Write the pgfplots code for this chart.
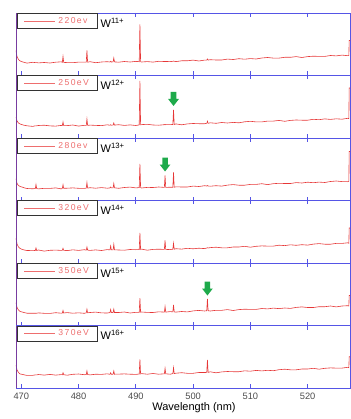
\documentclass[border=0pt]{standalone}
\usepackage{pgfplots}
\pgfplotsset{compat=1.18}
\usepackage{pgfplotstable}
\usepackage{fontspec}
\setmainfont{Liberation Sans}
\newfontfamily\legfont[LetterSpace=16]{Liberation Sans}

\definecolor{frameblue}{RGB}{85,85,230}
\definecolor{leftpurple}{RGB}{120,60,160}
\definecolor{specred}{RGB}{230,55,55}
\definecolor{legred}{RGB}{238,110,110}
\definecolor{arrowgreen}{RGB}{30,170,75}

% emission spectra, one column per electron-beam energy (intensity offset per panel)
\pgfplotstableread{
x a b c d e f
469.07 25 21 22 25 23 23
469.25 19 17 17 19 18 18
469.5 16 15 15 16 15.5 15.5
469.8 14.5 14 14 14.5 14 14
470.2 13.6 13.2 13.3 13.5 13.4 13.6
470.6 13.0 12.6 12.5 12.9 12.8 13.0
471 12.4 12.2 12.0 12.5 12.3 12.6
472 13.2 11.6 11.7 12.4 12.3 12.7
472.44 12.9 12.2 12.0 12.5 12.3 13.1
472.56 12.9 12.2 16 15 12.3 13.1
472.68 12.9 12.2 12.0 12.5 12.3 13.1
473 12.6 12.5 11.6 13.0 12.6 13.5
474 13.0 12.8 12.2 11.9 12.2 12.9
475 12.5 12.1 12.1 12.7 12.1 13.6
476 13.3 11.9 12.6 12.9 12.8 12.9
477 13.7 12.6 11.6 12.6 12.3 13.4
477.16 13.1 12.4 12.2 12.7 12.5 13.3
477.28 19 16 15.7 14.7 15 15.3
477.40 13.1 12.4 12.2 12.7 12.5 13.3
478 12.9 12.4 12.3 12.4 12.9 12.8
479 12.8 13.0 12.6 13.2 12.3 13.7
480 13.4 11.9 12.2 12.6 12.7 14.0
481 13.3 12.7 12.1 13.3 12.2 13.3
481.34 13.3 12.6 12.4 12.9 12.7 13.5
481.46 25 19 18 16 16.3 17
481.58 13.3 12.6 12.4 12.9 12.7 13.5
482 13.8 12.9 12.8 12.6 13.0 13.1
483 12.8 12.6 12.3 13.1 13.4 13.8
484 13.5 12.4 12.9 12.5 12.6 13.6
485 13.8 13.2 12.3 13.4 12.5 14.2
485.48 13.5 12.8 12.6 13.1 12.9 13.7
485.60 14.2 13.3 13.5 17 16 15.2
485.72 13.5 12.8 12.6 13.1 12.9 13.7
486.03 13.6 12.9 12.7 13.2 13.0 13.8
486.15 17.5 15 17 18.7 16.3 17
486.27 13.6 12.9 12.7 13.2 13.0 13.8
487 13.3 13.3 12.2 13.0 13.0 13.9
488 14.0 12.6 13.0 12.8 13.5 14.1
489 13.5 13.1 13.4 13.5 12.5 13.8
490 14.1 12.5 12.6 13.3 13.2 13.6
490.59 13.8 13.1 12.9 13.4 13.2 14.0
490.71 51 57 36.7 30 27.3 28.7
490.83 13.8 13.1 12.9 13.4 13.2 14.0
491 13.5 13.4 12.5 13.9 13.5 14.4
492 13.9 13.7 13.1 12.8 13.1 13.8
493 13.4 13.0 13.0 13.6 13.0 14.5
494 14.2 12.8 13.5 13.8 13.7 13.8
494.98 14.0 13.3 13.1 13.6 13.4 14.2
495.10 14.0 13.6 25 22.7 19 19.7
495.22 14.0 13.3 13.1 13.6 13.4 14.2
496 13.9 13.4 13.3 13.4 13.9 13.8
496.46 14.2 13.5 13.3 13.8 13.6 14.4
496.58 14.5 28 28 19.7 20.7 20.3
496.70 14.2 13.5 13.3 13.8 13.6 14.4
497 13.9 14.1 13.7 14.3 13.4 14.8
498 14.7 13.2 13.5 13.9 14.0 15.3
499 14.7 14.1 13.5 14.7 13.6 14.7
500 15.4 14.5 14.4 14.2 14.6 14.7
501 14.5 14.3 14.0 14.8 15.1 15.5
502 15.4 14.3 14.8 14.4 14.5 15.5
502.38 15.4 14.7 14.5 15.0 14.8 15.6
502.50 16.5 16.8 15.0 15.3 26.7 28
502.62 15.4 14.7 14.5 15.0 14.8 15.6
503 15.8 15.2 14.3 15.4 14.5 16.2
504 15.5 14.7 14.8 15.8 15.2 15.2
505 15.5 15.5 14.4 15.2 15.2 16.1
506 16.4 15.0 15.4 15.2 15.9 16.5
507 16.0 15.6 15.9 16.0 15.0 16.3
508 16.8 15.2 15.3 16.0 15.9 16.3
509 16.3 16.2 15.3 16.7 16.3 17.2
510 16.9 16.7 16.1 15.8 16.1 16.8
511 16.5 16.1 16.1 16.7 16.1 17.6
512 17.5 16.1 16.8 17.1 17.0 17.1
513 18.0 16.9 15.9 16.9 16.6 17.7
514 17.4 16.9 16.8 16.9 17.4 17.3
515 17.4 17.6 17.2 17.8 16.9 18.3
516 18.2 16.7 17.0 17.4 17.5 18.8
517 18.2 17.6 17.0 18.2 17.1 18.2
518 18.9 18.0 17.9 17.7 18.1 18.2
519 18.0 17.8 17.5 18.3 18.6 19.0
520 18.9 17.8 18.3 17.9 18.0 19.0
521 19.3 18.7 17.8 18.9 18.0 19.7
522 19.1 18.3 18.4 19.4 18.8 18.8
523 19.1 19.1 18.0 18.8 18.8 19.7
524 20.0 18.6 19.0 18.8 19.5 20.1
525 19.6 19.2 19.5 19.6 18.6 19.9
526 20.4 18.8 18.9 19.6 19.5 19.9
527 19.8 19.7 18.8 20.2 19.8 20.7
527.2 20.0 19.4 19.2 19.7 19.5 20.3
527.26 35 50 49 35 30 31.3
527.6 35 50 49 35 30 31.3
}\spectra

% green marker pointing down at a line; tip at (#1,#2)
\newcommand\peakarrow[2]{%
  \fill[arrowgreen]
    ([shift={(-2.8pt,14pt)}]axis cs:#1,#2) -- ([shift={(2.8pt,14pt)}]axis cs:#1,#2)
    -- ([shift={(2.8pt,7pt)}]axis cs:#1,#2) -- ([shift={(5.4pt,7pt)}]axis cs:#1,#2)
    -- (axis cs:#1,#2) -- ([shift={(-5.4pt,7pt)}]axis cs:#1,#2)
    -- ([shift={(-2.8pt,7pt)}]axis cs:#1,#2) -- cycle;}

% charge-state label next to the legend, and the left frame line
\newcommand\chargelabel[1]{%
  \node[anchor=base west, inner sep=0pt, font=\fontsize{11}{13}\selectfont]
    at ([xshift=84.5pt, yshift=-14.3pt]rel axis cs:0,1) {W\textsuperscript{#1}};
  \draw[leftpurple, line width=0.9pt] (rel axis cs:0,0) -- (rel axis cs:0,1);}

\pgfplotsset{
  panel/.style={
    anchor=north west, scale only axis, width=334pt, height=62.5pt,
    xmin=469.07, xmax=527.4, ymin=0, ymax=62.5,
    xtick={470,480,...,520}, ytick=\empty, xticklabels={},
    tick align=inside, major tick length=4pt,
    axis line style={frameblue, line width=0.8pt},
    every tick/.style={frameblue, line width=0.8pt},
    legend style={at={(rel axis cs:0.003,1)}, anchor=north west,
      draw=black!80, line width=0.9pt, inner sep=0pt,
      nodes={inner sep=0pt, text=legred, text width=39pt, align=left,
        font=\legfont\fontsize{8.6}{9}\selectfont}},
    legend image code/.code={%
      \path[draw=none, fill=none] (-7pt,-7.5pt) rectangle (34pt,7.5pt);
      \draw[legred, line width=0.8pt] (0pt,0pt) -- (31pt,0pt);},
  },
  spec/.style={specred, line width=0.6pt, no marks},
}

\begin{document}
\begin{tikzpicture}
\useasboundingbox (-16pt,-406pt) rectangle (334pt,13pt);

\begin{axis}[panel, at={(0pt,0pt)}]
  \addplot[spec] table[x=x, y=a] {\spectra};
  \addlegendentry{220ev}
  \chargelabel{11+}
\end{axis}

\begin{axis}[panel, at={(0pt,-62.5pt)}]
  \addplot[spec] table[x=x, y=b] {\spectra};
  \addlegendentry{250eV}
  \chargelabel{12+}
  \peakarrow{496.58}{32}
\end{axis}

\begin{axis}[panel, at={(0pt,-125pt)}]
  \addplot[spec] table[x=x, y=c] {\spectra};
  \addlegendentry{280ev}
  \chargelabel{13+}
  \peakarrow{495.10}{29}
\end{axis}

\begin{axis}[panel, at={(0pt,-187.5pt)}]
  \addplot[spec] table[x=x, y=d] {\spectra};
  \addlegendentry{320eV}
  \chargelabel{14+}
\end{axis}

\begin{axis}[panel, at={(0pt,-250pt)}]
  \addplot[spec] table[x=x, y=e] {\spectra};
  \addlegendentry{350eV}
  \chargelabel{15+}
  \peakarrow{502.50}{30}
\end{axis}

\begin{axis}[panel, at={(0pt,-312.5pt)},
    xticklabels={470,480,490,500,510,520},
    /pgf/number format/assume math mode=true,
    xticklabel style={font=\fontsize{9.3}{11}\selectfont, text=black!70, yshift=-1pt},
    xlabel={Wavelength (nm)},
    xlabel style={font=\fontsize{11}{13}\selectfont, xshift=11pt, yshift=3pt}]
  \addplot[spec] table[x=x, y=f] {\spectra};
  \addlegendentry{370eV}
  \chargelabel{16+}
\end{axis}
\end{tikzpicture}
\end{document}
